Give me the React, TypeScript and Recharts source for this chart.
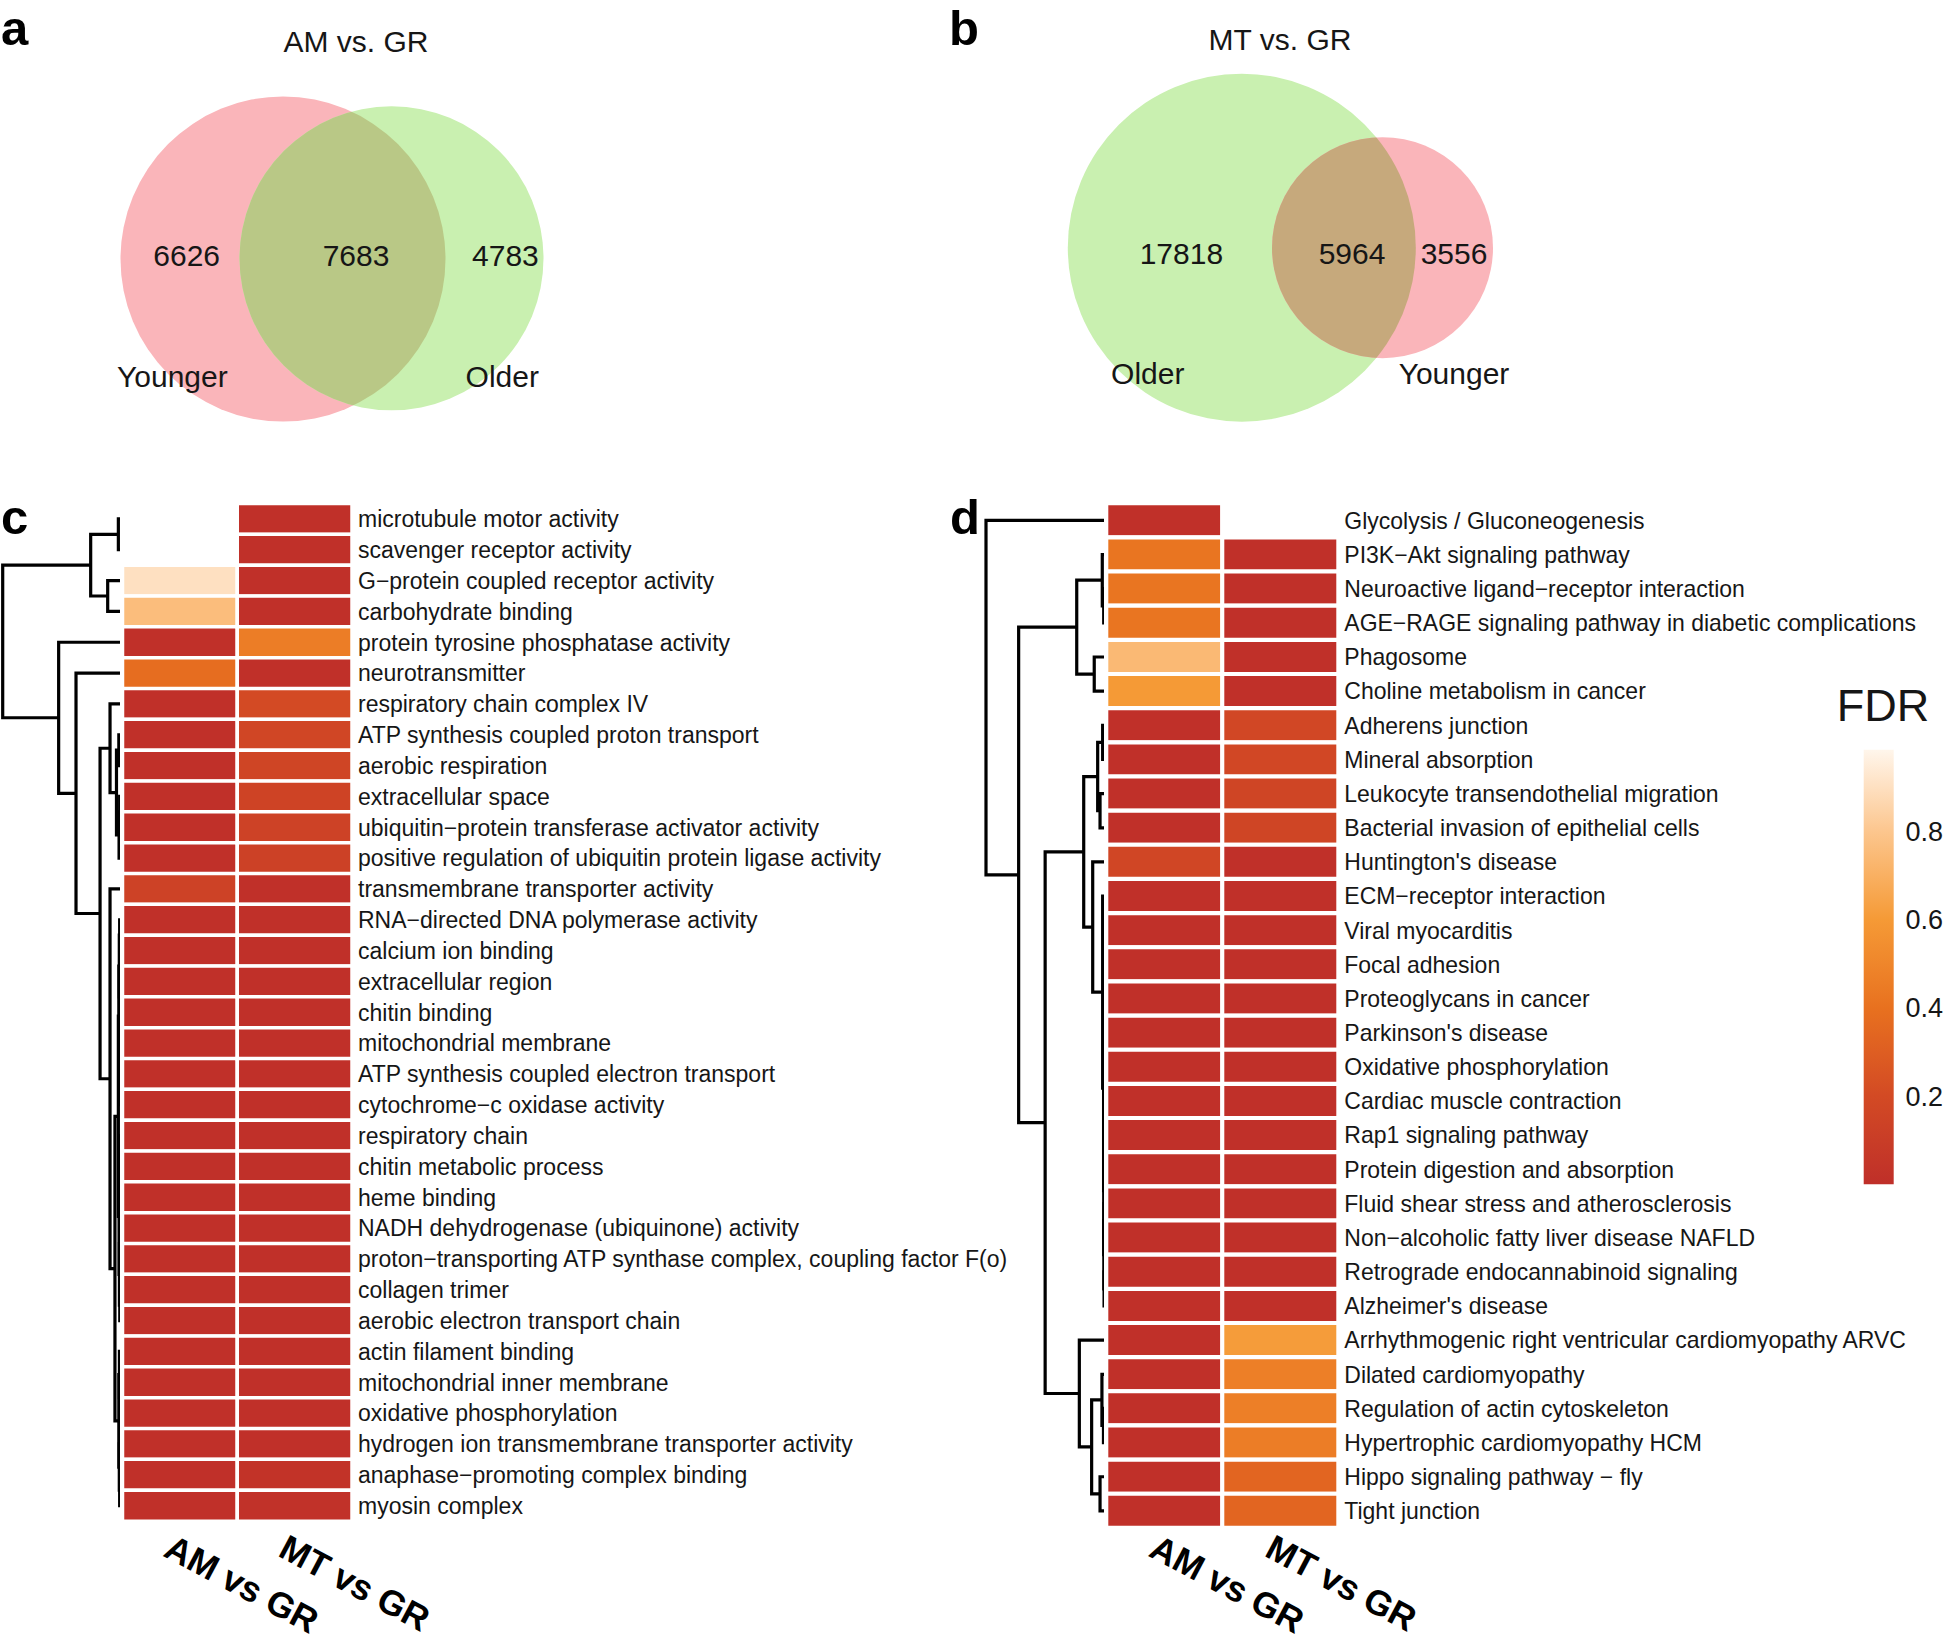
import React from 'react';
import { ScatterChart, Scatter, XAxis, YAxis, BarChart, Bar, Cell } from 'recharts';

const FONT = '"Liberation Sans", Arial, Helvetica, sans-serif';
const INK = '#161616';

// ---------------- data ----------------
const vennATitle = 'AM vs. GR';
const vennASets = ['Younger', 'Older'];
const vennACounts = [6626, 7683, 4783];

const vennBTitle = 'MT vs. GR';
const vennBSets = ['Older', 'Younger'];
const vennBCounts = [17818, 5964, 3556];

const comparisons = ['AM vs GR', 'MT vs GR'];

const goTerms = [
  'microtubule motor activity',
  'scavenger receptor activity',
  'G\u2212protein coupled receptor activity',
  'carbohydrate binding',
  'protein tyrosine phosphatase activity',
  'neurotransmitter',
  'respiratory chain complex IV',
  'ATP synthesis coupled proton transport',
  'aerobic respiration',
  'extracellular space',
  'ubiquitin\u2212protein transferase activator activity',
  'positive regulation of ubiquitin protein ligase activity',
  'transmembrane transporter activity',
  'RNA\u2212directed DNA polymerase activity',
  'calcium ion binding',
  'extracellular region',
  'chitin binding',
  'mitochondrial membrane',
  'ATP synthesis coupled electron transport',
  'cytochrome\u2212c oxidase activity',
  'respiratory chain',
  'chitin metabolic process',
  'heme binding',
  'NADH dehydrogenase (ubiquinone) activity',
  'proton\u2212transporting ATP synthase complex, coupling factor F(o)',
  'collagen trimer',
  'aerobic electron transport chain',
  'actin filament binding',
  'mitochondrial inner membrane',
  'oxidative phosphorylation',
  'hydrogen ion transmembrane transporter activity',
  'anaphase\u2212promoting complex binding',
  'myosin complex',
];
const goAM = [
  null, null, 0.9, 0.76, 0.01, 0.38, 0.01, 0.01, 0.01, 0.01, 0.01, 0.01, 0.14,
  0.01, 0.01, 0.01, 0.01, 0.01, 0.01, 0.01, 0.01, 0.01, 0.01, 0.01, 0.01, 0.01,
  0.01, 0.01, 0.01, 0.01, 0.01, 0.01, 0.01,
];
const goMT = [
  0.01, 0.01, 0.01, 0.01, 0.46, 0.01, 0.2, 0.17, 0.16, 0.15, 0.14, 0.13, 0.01,
  0.01, 0.01, 0.01, 0.01, 0.01, 0.01, 0.01, 0.01, 0.01, 0.01, 0.01, 0.01, 0.01,
  0.01, 0.01, 0.01, 0.01, 0.01, 0.03, 0.02,
];

const keggTerms = [
  'Glycolysis / Gluconeogenesis',
  'PI3K\u2212Akt signaling pathway',
  'Neuroactive ligand\u2212receptor interaction',
  'AGE\u2212RAGE signaling pathway in diabetic complications',
  'Phagosome',
  'Choline metabolism in cancer',
  'Adherens junction',
  'Mineral absorption',
  'Leukocyte transendothelial migration',
  'Bacterial invasion of epithelial cells',
  "Huntington's disease",
  'ECM\u2212receptor interaction',
  'Viral myocarditis',
  'Focal adhesion',
  'Proteoglycans in cancer',
  "Parkinson's disease",
  'Oxidative phosphorylation',
  'Cardiac muscle contraction',
  'Rap1 signaling pathway',
  'Protein digestion and absorption',
  'Fluid shear stress and atherosclerosis',
  'Non\u2212alcoholic fatty liver disease NAFLD',
  'Retrograde endocannabinoid signaling',
  "Alzheimer's disease",
  'Arrhythmogenic right ventricular cardiomyopathy ARVC',
  'Dilated cardiomyopathy',
  'Regulation of actin cytoskeleton',
  'Hypertrophic cardiomyopathy HCM',
  'Hippo signaling pathway \u2212 fly',
  'Tight junction',
];
const keggAM = [
  0.01, 0.42, 0.42, 0.42, 0.74, 0.6, 0.01, 0.01, 0.01, 0.01, 0.17, 0.01, 0.01,
  0.01, 0.01, 0.01, 0.01, 0.01, 0.01, 0.01, 0.01, 0.01, 0.01, 0.01, 0.01, 0.01,
  0.01, 0.01, 0.01, 0.01,
];
const keggMT = [
  null, 0.01, 0.01, 0.01, 0.01, 0.01, 0.18, 0.18, 0.16, 0.16, 0.01, 0.01, 0.01,
  0.01, 0.01, 0.01, 0.01, 0.01, 0.01, 0.01, 0.01, 0.01, 0.01, 0.01, 0.61, 0.47,
  0.47, 0.46, 0.34, 0.34,
];

const fdrTicks = [0.2, 0.4, 0.6, 0.8];
const fdrMax = 0.985;

// dendrograms: [height, left, right]; leaves are row indices
const goTree: any = [1, [0.25, [0.014, 0, 1], [0.105, 2, 3]],
  [0.523, 4, [0.375, 5, [0.17,
    [0.085, 6, [0.03, [0.01, 7, 8], [0.008, [0.003, 9, 10], 11]]],
    [0.085, 12, [0.043,
      [0.014,
        [0.01, [0.006, [0.003, 13, 14], [0.004, 15, 16]], [0.005, 17, [0.002, 18, 19]]],
        [0.008, [0.004, 20, [0.002, 21, 22]], [0.005, [0.003, 23, 24], [0.002, 25, 26]]]],
      [0.01, [0.005, 27, [0.003, 28, 29]], [0.006, 30, [0.003, 31, 32]]]]]]]]];

const keggTree: any = [1, 0, [0.724,
  [0.233, [0.017, 1, [0.005, 2, 3]], [0.085, 4, 5]],
  [0.5,
    [0.174, [0.056, [0.014, 6, 7], [0.036, 8, 9]],
      [0.098, 10, [0.014, 11,
        [0.006, [0.004, [0.002, 12, 13], [0.003, 14, [0.001, 15, 16]]],
          [0.005, [0.003, 17, [0.002, 18, 19]], [0.004, [0.002, 20, 21], [0.002, 22, 23]]]]]]],
    [0.211, 24, [0.107, [0.02, 25, [0.007, 26, 27]], [0.036, 28, 29]]]]]];

// ---------------- styling / layout ----------------
const FDR_STOPS: [number, number[]][] = [
  [0, [191, 47, 41]],
  [0.2, [211, 74, 36]],
  [0.4, [232, 113, 31]],
  [0.6, [245, 154, 54]],
  [0.8, [252, 198, 142]],
  [1, [255, 250, 244]],
];
function fdrColor(v: number): string {
  const t = Math.max(0, Math.min(1, v));
  for (let i = 0; i < FDR_STOPS.length - 1; i++) {
    const [a, ca] = FDR_STOPS[i];
    const [b, cb] = FDR_STOPS[i + 1];
    if (t <= b) {
      const f = (t - a) / (b - a);
      const c = ca.map((x, k) => Math.round(x + (cb[k] - x) * f));
      return `rgb(${c[0]},${c[1]},${c[2]})`;
    }
  }
  return 'rgb(255,250,244)';
}

const PINK = '#fab5ba';
const GREEN = '#c9f0b0';

const VENN_A_LAYOUT = {
  left: 0,
  circles: [
    { cx: 283, cy: 259, r: 162.5, fill: PINK },
    { cx: 391.5, cy: 258.3, r: 152, fill: GREEN },
  ],
  overlapFill: '#b9c886',
  countPos: [[186.7, 255], [356, 255], [505.4, 255]],
  namePos: [[172.4, 376], [502.3, 376]],
};
const VENN_B_LAYOUT = {
  left: 940,
  circles: [
    { cx: 301.8, cy: 247.7, r: 174, fill: GREEN },
    { cx: 442.5, cy: 247.7, r: 110.5, fill: PINK },
  ],
  overlapFill: '#c6a97c',
  countPos: [[241.4, 252.7], [412, 252.7], [514, 252.7]],
  namePos: [[207.8, 373.5], [514, 373.5]],
};

// ---------------- shapes ----------------
const CircleShape = (p: any) => (
  <circle cx={p.cx} cy={p.cy} r={p.payload.r} fill={p.payload.fill} />
);
const LensShape = (p: any) => {
  const d = p.payload;
  return (
    <g>
      <defs>
        <clipPath id={d.clipId}>
          <circle cx={p.cx + d.dx} cy={p.cy + d.dy} r={d.r2} />
        </clipPath>
      </defs>
      <circle cx={p.cx} cy={p.cy} r={d.r} fill={d.fill} clipPath={`url(#${d.clipId})`} />
    </g>
  );
};
const TextShape = (p: any) => (
  <text x={p.cx} y={p.cy} dy="0.36em" textAnchor="middle" fontSize={30} fontFamily={FONT} fill={INK}>
    {p.payload.label}
  </text>
);
const Empty = () => <g />;

function Venn({ sets, counts, layout, id }: any) {
  const W = 600, H = 440;
  const [c0, c1] = layout.circles;
  const circleData = layout.circles.map((c: any, i: number) => ({ x: c.cx, y: c.cy, r: c.r, fill: c.fill, set: sets[i] }));
  const lensData = [{ x: c0.cx, y: c0.cy, r: c0.r, dx: c1.cx - c0.cx, dy: c1.cy - c0.cy, r2: c1.r, fill: layout.overlapFill, clipId: `lens-${id}` }];
  const textData = [
    ...counts.map((n: number, i: number) => ({ x: layout.countPos[i][0], y: layout.countPos[i][1], label: String(n) })),
    ...sets.map((s: string, i: number) => ({ x: layout.namePos[i][0], y: layout.namePos[i][1], label: s })),
  ];
  return (
    <div style={{ position: 'absolute', left: layout.left, top: 0 }}>
      <ScatterChart width={W} height={H} margin={{ top: 0, right: 0, bottom: 0, left: 0 }}>
        <XAxis type="number" dataKey="x" domain={[0, W]} hide />
        <YAxis type="number" dataKey="y" domain={[0, H]} reversed hide />
        <Scatter data={circleData} shape={CircleShape} isAnimationActive={false} />
        <Scatter data={lensData} shape={LensShape} isAnimationActive={false} />
        <Scatter data={textData} shape={TextShape} isAnimationActive={false} />
      </ScatterChart>
    </div>
  );
}

function buildSegments(tree: any) {
  const segs: any[] = [];
  const walk = (node: any): { y: number; h: number } => {
    if (typeof node === 'number') return { y: node, h: 0 };
    const [h, l, r] = node;
    const L = walk(l);
    const R = walk(r);
    segs.push({ h, pts: [{ h: L.h, y: L.y }, { h, y: L.y }, { h, y: R.y }, { h: R.h, y: R.y }] });
    return { y: (L.y + R.y) / 2, h };
  };
  walk(tree);
  return segs;
}

function Dendrogram({ tree, n, left, top, plotLeft, plotW, plotTop, plotH }: any) {
  const segs = buildSegments(tree);
  return (
    <div style={{ position: 'absolute', left, top }}>
      <ScatterChart width={plotLeft + plotW} height={plotTop + plotH + 4} margin={{ top: plotTop, right: 0, bottom: 4, left: plotLeft }}>
        <XAxis type="number" dataKey="h" domain={[0, 1]} reversed hide />
        <YAxis type="number" dataKey="y" domain={[-0.5, n - 0.5]} reversed hide />
        {segs.map((s, i) => (
          <Scatter key={i} data={s.pts} line={{ stroke: '#000', strokeWidth: 3.2 }} lineType="joint" shape={Empty} isAnimationActive={false} />
        ))}
      </ScatterChart>
    </div>
  );
}

const RowTick = (p: any) => (
  <text x={p.x} y={p.y} dy="0.36em" textAnchor="start" fontSize={23} fontFamily={FONT} fill={INK}>
    {p.payload.value}
  </text>
);
const makeColTick = (dx: number, dy: number) => (p: any) => {
  const idx = Math.floor(p.payload.value);
  const tx = p.x + dx;
  const ty = p.y + dy;
  return (
    <text x={tx} y={ty} transform={`rotate(28 ${tx} ${ty})`} fontSize={35.5} fontWeight="bold" fontFamily={FONT} fill="#000">
      {comparisons[idx]}
    </text>
  );
};

function Heatmap({ terms, am, mt, left, top, mLeft, mTop, plotW, plotH, axisW, axisH, sw, colDx, colDy }: any) {
  const data = terms.map((t: string, i: number) => ({ term: t, am: am[i], mt: mt[i], c1: 1, c2: 1 }));
  const W = mLeft + plotW + axisW;
  const H = mTop + plotH + axisH;
  return (
    <div style={{ position: 'absolute', left, top }}>
      <BarChart layout="vertical" width={W} height={H} data={data} margin={{ top: mTop, right: 0, bottom: 0, left: mLeft }} barCategoryGap={0} barGap={0}>
        <XAxis type="number" domain={[0, 2]} ticks={[0.5, 1.5]} interval={0} height={axisH} axisLine={false} tickLine={false} tickSize={0} tickMargin={0} tick={makeColTick(colDx, colDy)} />
        <YAxis type="category" dataKey="term" orientation="right" width={axisW} interval={0} axisLine={false} tickLine={false} tickSize={0} tickMargin={6} tick={RowTick} />
        <Bar dataKey="c1" stackId="s" stroke="#ffffff" strokeWidth={sw} isAnimationActive={false}>
          {data.map((d: any, i: number) => (
            <Cell key={i} fill={d.am == null ? 'none' : fdrColor(d.am)} />
          ))}
        </Bar>
        <Bar dataKey="c2" stackId="s" stroke="#ffffff" strokeWidth={sw} isAnimationActive={false}>
          {data.map((d: any, i: number) => (
            <Cell key={i} fill={d.mt == null ? 'none' : fdrColor(d.mt)} />
          ))}
        </Bar>
      </BarChart>
    </div>
  );
}

function ColorBar() {
  const stops = [0, 0.1, 0.2, 0.3, 0.4, 0.5, 0.6, 0.7, 0.8, 0.9, fdrMax];
  return (
    <div style={{ position: 'absolute', left: 1850, top: 740 }}>
      <BarChart width={100} height={460} data={[{ k: 'FDR', v: fdrMax }]} margin={{ top: 9.5, right: 0, bottom: 15.5, left: 13.7 }} barCategoryGap={0}>
        <defs>
          <linearGradient id="fdrGrad" x1="0" y1="1" x2="0" y2="0">
            {stops.map((s, i) => (
              <stop key={i} offset={s / fdrMax} stopColor={fdrColor(s)} />
            ))}
          </linearGradient>
        </defs>
        <XAxis dataKey="k" type="category" hide />
        <YAxis type="number" orientation="right" domain={[0, fdrMax]} ticks={fdrTicks} width={56.4} axisLine={false} tickLine={false} tickSize={0} tickMargin={12} tick={{ fontSize: 27, fill: INK, fontFamily: FONT }} allowDataOverflow />
        <Bar dataKey="v" fill="url(#fdrGrad)" isAnimationActive={false} />
      </BarChart>
    </div>
  );
}

export default function App() {
  return (
    <div style={{ position: 'absolute', left: 0, top: 0, width: 1952, height: 1642, background: '#fff', overflow: 'hidden', fontFamily: FONT }}>
      <Venn sets={vennASets} counts={vennACounts} layout={VENN_A_LAYOUT} id="a" />
      <Venn sets={vennBSets} counts={vennBCounts} layout={VENN_B_LAYOUT} id="b" />

      <Dendrogram tree={goTree} n={goTerms.length} left={0} top={480} plotLeft={2.7} plotW={117.3} plotTop={23.5} plotH={1017.5} />
      <Heatmap terms={goTerms} am={goAM} mt={goMT} left={100} top={480} mLeft={22.5} mTop={23.5} plotW={229.5} plotH={1017.5} axisW={680} axisH={121} sw={3.5} colDx={-18} colDy={34.5} />

      <Dendrogram tree={keggTree} n={keggTerms.length} left={980} top={480} plotLeft={6} plotW={118.3} plotTop={23.3} plotH={1024.7} />
      <Heatmap terms={keggTerms} am={keggAM} mt={keggMT} left={1090} top={480} mLeft={16.3} mTop={23.3} plotW={232} plotH={1024.7} axisW={610} axisH={114} sw={4} colDx={-17} colDy={27.5} />

      <ColorBar />

      <svg width={1952} height={1642} style={{ position: 'absolute', left: 0, top: 0, pointerEvents: 'none' }}>
        <g fontFamily={FONT} fill="#000">
          <text x={1} y={45} fontSize={49} fontWeight="bold">a</text>
          <text x={949} y={45} fontSize={49} fontWeight="bold">b</text>
          <text x={1} y={534} fontSize={49} fontWeight="bold">c</text>
          <text x={950} y={534} fontSize={49} fontWeight="bold">d</text>
        </g>
        <g fontFamily={FONT} fill={INK} textAnchor="middle">
          <text x={356} y={52} fontSize={30}>{vennATitle}</text>
          <text x={1280} y={50} fontSize={30}>{vennBTitle}</text>
          <text x={1883} y={721} fontSize={45}>FDR</text>
        </g>
      </svg>
    </div>
  );
}
